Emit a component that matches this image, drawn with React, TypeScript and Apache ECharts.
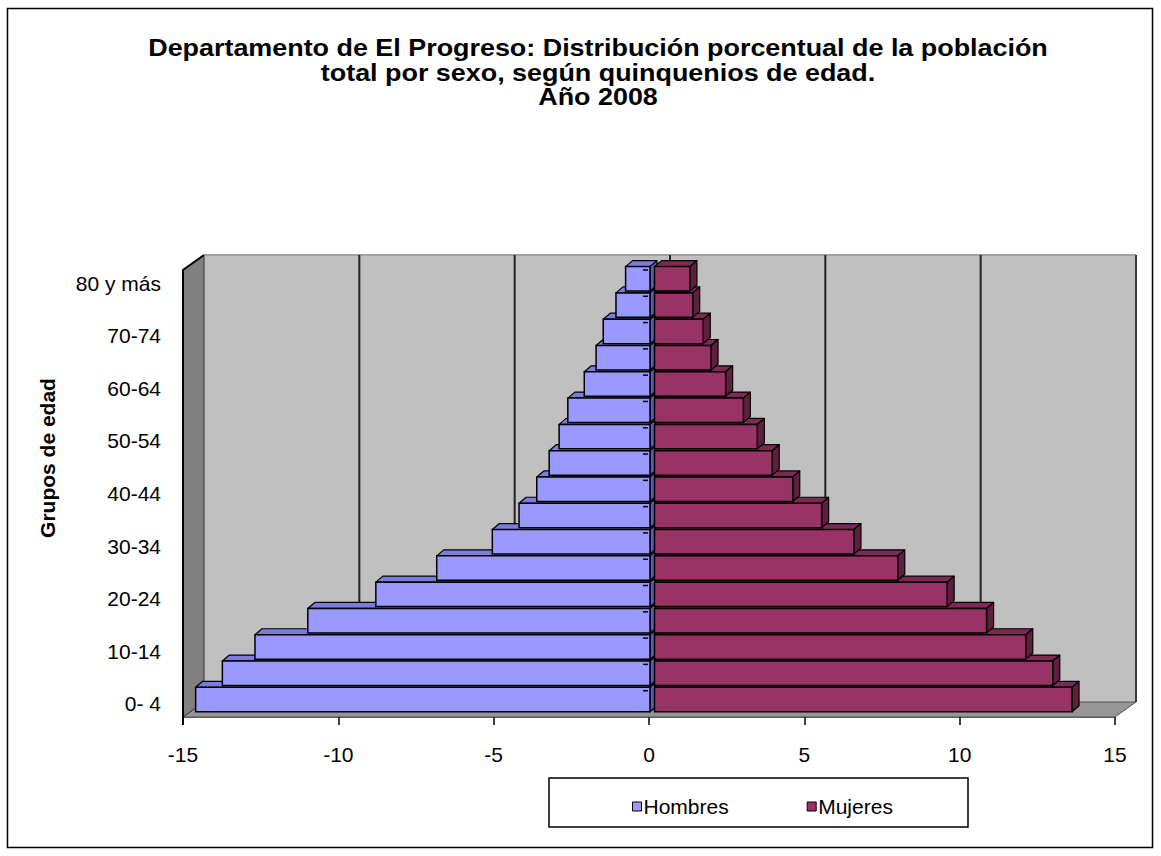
import React, { useEffect, useRef } from "react";
import * as echarts from "echarts";

const categories = ["0- 4", "5- 9", "10-14", "15-19", "20-24", "25-29", "30-34", "35-39", "40-44", "45-49", "50-54", "55-59", "60-64", "65-69", "70-74", "75-79", "80 y más"];
const hombres = [-14.77, -13.91, -12.86, -11.16, -8.97, -7.01, -5.22, -4.36, -3.79, -3.39, -3.07, -2.79, -2.26, -1.88, -1.65, -1.24, -0.93];
const mujeres = [13.44, 12.82, 11.95, 10.69, 9.42, 7.83, 6.42, 5.38, 4.45, 3.79, 3.31, 2.86, 2.29, 1.82, 1.57, 1.23, 1.14];
const titleLines = [
  "Departamento de El Progreso: Distribución porcentual de la población",
  "total por sexo, según quinquenios de edad.",
  "Año 2008",
];
const xMin = -15;
const xMax = 15;
const xStep = 5;
const gridValues = [-10, -5, 0, 5, 10];

const FONT = "'Liberation Sans', Arial, sans-serif";
const DEPTH_X = 21;
const DEPTH_Y = -15;
const BAR_SHIFT_X = 5.5;
const BAR_SHIFT_Y = -4.3;
const BAR_DX = 7;
const BAR_DY = -6;

function makeBarRenderer(isMen: boolean, front: string, top: string, side: string) {
  return (params: any, api: any) => {
    const v = api.value(0);
    const idx = api.value(1);
    const p = api.coord([v, idx]);
    const z = api.coord([0, idx]);
    const band = api.size([0, 1])[1];
    const h = band * 0.93;
    const yc = p[1] + BAR_SHIFT_Y;
    const y0 = yc - h / 2;
    const y1 = yc + h / 2;
    let xl: number, xr: number;
    if (isMen) {
      xl = p[0] + BAR_SHIFT_X;
      xr = z[0] + BAR_SHIFT_X - 4.5;
    } else {
      xl = z[0] + BAR_SHIFT_X;
      xr = p[0] + BAR_SHIFT_X;
    }
    const stroke = { stroke: "#000", lineWidth: 1.2, lineJoin: "round" };
    const children: any[] = [
      {
        type: "polygon",
        shape: { points: [[xl, y0], [xl + BAR_DX, y0 + BAR_DY], [xr + BAR_DX, y0 + BAR_DY], [xr, y0]] },
        style: { fill: top, ...stroke },
      },
      {
        type: "polygon",
        shape: { points: [[xr, y0], [xr + BAR_DX, y0 + BAR_DY], [xr + BAR_DX, y1 + BAR_DY], [xr, y1]] },
        style: { fill: side, ...stroke },
      },
      {
        type: "rect",
        shape: { x: xl, y: y0, width: xr - xl, height: h },
        style: { fill: front, stroke: "#000", lineWidth: 1.5 },
      },
    ];
    if (isMen) {
      const ye = p[1] - band / 2;
      children.push({
        type: "line",
        shape: { x1: z[0] - 6, y1: ye, x2: z[0] - 1, y2: ye },
        style: { stroke: "#000", lineWidth: 1.5 },
      });
    }
    return { type: "group", children };
  };
}

function renderWalls(params: any, api: any) {
  const cs = params.coordSys;
  const x0 = cs.x;
  const x1 = cs.x + cs.width;
  const yT = cs.y;
  const yB = cs.y + cs.height;
  const children: any[] = [
    {
      type: "rect",
      shape: { x: x0 + DEPTH_X, y: yT + DEPTH_Y, width: x1 - x0, height: yB - yT },
      style: { fill: "#c0c0c0", stroke: null },
    },
    {
      type: "polygon",
      shape: { points: [[x0, yB], [x0 + DEPTH_X, yB + DEPTH_Y], [x1 + DEPTH_X, yB + DEPTH_Y], [x1, yB]] },
      style: { fill: "#969696", stroke: "#555", lineWidth: 1 },
    },
    {
      type: "polygon",
      shape: { points: [[x0, yT], [x0 + DEPTH_X, yT + DEPTH_Y], [x0 + DEPTH_X, yB + DEPTH_Y], [x0, yB]] },
      style: { fill: "#808080", stroke: "#333", lineWidth: 1 },
    },
    {
      type: "line",
      shape: { x1: x0 + DEPTH_X, y1: yT + DEPTH_Y, x2: x1 + DEPTH_X, y2: yT + DEPTH_Y },
      style: { stroke: "#a0a0a0", lineWidth: 2 },
    },
    {
      type: "line",
      shape: { x1: x1 + DEPTH_X, y1: yT + DEPTH_Y, x2: x1 + DEPTH_X, y2: yB + DEPTH_Y },
      style: { stroke: "#3a3a3a", lineWidth: 2 },
    },
    {
      type: "polyline",
      shape: { points: [[x0, yB + 8], [x0, yT], [x0 + DEPTH_X, yT + DEPTH_Y]] },
      style: { stroke: "#000", lineWidth: 2, fill: null },
    },
  ];
  gridValues.forEach((g) => {
    const gx = api.coord([g, 0])[0] + DEPTH_X;
    children.push({
      type: "line",
      shape: { x1: gx, y1: yT + DEPTH_Y, x2: gx, y2: yB + DEPTH_Y },
      style: { stroke: "#222", lineWidth: 2 },
    });
  });
  return { type: "group", children };
}

export default function App() {
  const ref = useRef<HTMLDivElement>(null);
  useEffect(() => {
    if (!ref.current) return;
    const chart = echarts.init(ref.current, null, { renderer: "svg" });
    const titleY = [48, 72.5, 97];
    const titleGraphics = titleLines.map((t, i) => ({
      type: "text",
      x: 598,
      y: titleY[i],
      scaleX: 1.17,
      style: {
        text: t,
        font: `bold 23px ${FONT}`,
        fill: "#000",
        align: "center",
        verticalAlign: "middle",
      },
      z: 5,
    }));
    const option: any = {
      animation: false,
      backgroundColor: "#ffffff",
      textStyle: { fontFamily: FONT },
      grid: { left: 183, right: 46, top: 270, bottom: 139, containLabel: false },
      xAxis: {
        type: "value",
        min: xMin,
        max: xMax,
        interval: xStep,
        axisLine: { show: true, onZero: false, lineStyle: { color: "#333", width: 1.5 } },
        axisTick: { show: true, length: 8, lineStyle: { color: "#000", width: 1.5 } },
        axisLabel: { fontFamily: FONT, fontSize: 21, color: "#000", margin: 27 },
        splitLine: { show: false },
      },
      yAxis: {
        type: "category",
        data: categories,
        axisLine: { show: false, onZero: false },
        axisTick: { show: false },
        axisLabel: { interval: 1, fontFamily: FONT, fontSize: 21, color: "#000", margin: 22, padding: [8, 0, 0, 0] },
        splitLine: { show: false },
      },
      legend: {
        data: ["Hombres", "Mujeres"],
        left: 627,
        top: 791,
        itemWidth: 9,
        itemHeight: 9,
        itemGap: 78,
        icon: "rect",
        itemStyle: { borderColor: "#000", borderWidth: 1 },
        textStyle: { fontFamily: FONT, fontSize: 21, color: "#000", padding: [0, 0, 0, -3] },
      },
      graphic: [
        {
          type: "rect",
          shape: { x: 7.5, y: 8.5, width: 1145, height: 839 },
          style: { fill: null, stroke: "#000", lineWidth: 1.5 },
          z: 0,
        },
        {
          type: "rect",
          shape: { x: 549, y: 778, width: 419, height: 49 },
          style: { fill: "#fff", stroke: "#000", lineWidth: 1.5 },
          z: 0,
        },
        {
          type: "text",
          x: 47,
          y: 458,
          rotation: Math.PI / 2,
          style: {
            text: "Grupos de edad",
            font: `bold 21px ${FONT}`,
            fill: "#000",
            align: "center",
            verticalAlign: "middle",
          },
        },
        ...titleGraphics,
      ],
      series: [
        {
          type: "custom",
          name: "walls",
          renderItem: renderWalls,
          data: [[0, 0]],
          clip: false,
          silent: true,
          z: 1,
        },
        {
          type: "custom",
          name: "Hombres",
          itemStyle: { color: "#9999ff" },
          renderItem: makeBarRenderer(true, "#9999ff", "#7b7be0", "#5c5cb8"),
          data: hombres.map((v, i) => [v, i]),
          encode: { x: 0, y: 1 },
          clip: false,
          z: 2,
        },
        {
          type: "custom",
          name: "Mujeres",
          itemStyle: { color: "#993366" },
          renderItem: makeBarRenderer(false, "#993366", "#7d2953", "#5e1f40"),
          data: mujeres.map((v, i) => [v, i]),
          encode: { x: 0, y: 1 },
          clip: false,
          z: 3,
        },
      ],
    };
    chart.setOption(option);
    return () => chart.dispose();
  }, []);
  return <div ref={ref} style={{ position: "absolute", left: 0, top: 0, width: 1161, height: 856 }} />;
}
